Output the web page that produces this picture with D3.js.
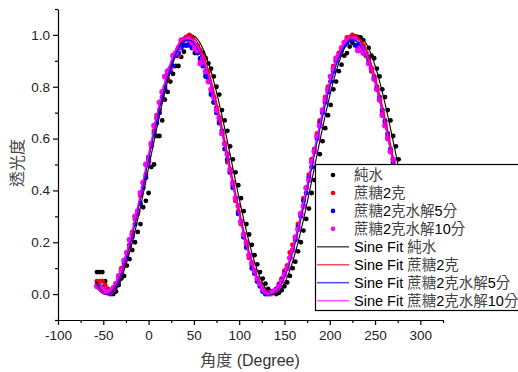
<!DOCTYPE html>
<html>
<head>
<meta charset="utf-8">
<script src="https://cdn.jsdelivr.net/npm/d3@7"></script>
<style>
  body { margin: 0; background: #fff; }
  text { font-family: "Liberation Sans", Arial, "Noto Sans CJK TC", sans-serif; }
  .cjk { font-family: "Noto Sans CJK TC", sans-serif; fill: #444; }
</style>
</head>
<body>
<div id="root"></div>
<script>
// measured angles (deg)
const angles = [
  -57, -54, -51, -48, -45, -42, -39, -36, -33, -30,
  -27, -24, -21, -18, -15, -12, -9, -6, -3, 0,
  3, 6, 9, 12, 15, 18, 21, 24, 27, 30,
  33, 36, 39, 42, 45, 48, 51, 54, 57, 60,
  63, 66, 69, 72, 75, 78, 81, 84, 87, 90,
  93, 96, 99, 102, 105, 108, 111, 114, 117, 120,
  123, 126, 129, 132, 135, 138, 141, 144, 147, 150,
  153, 156, 159, 162, 165, 168, 171, 174, 177, 180,
  183, 186, 189, 192, 195, 198, 201, 204, 207, 210,
  213, 216, 219, 222, 225, 228, 231, 234, 237, 240,
  243, 246, 249, 252, 255, 258, 261, 264, 267, 270,
  273, 276, 279
];

const water = [
  0.085, 0.085, 0.085, 0.05, 0.02, 0.005, 0.0, 0.01, 0.035, 0.06,
  0.07, 0.11, 0.135, 0.17, 0.2, 0.24, 0.27, 0.335, 0.36, 0.39,
  0.49, 0.5, 0.61, 0.61, 0.67, 0.75, 0.78, 0.82, 0.85, 0.88,
  0.88, 0.915, 0.935, 0.96, 0.97, 0.99, 0.93, 0.95, 0.94, 0.93,
  0.91, 0.89, 0.87, 0.84, 0.8, 0.77, 0.71, 0.67, 0.63, 0.57,
  0.52, 0.47, 0.42, 0.37, 0.32, 0.27, 0.23, 0.19, 0.15, 0.115,
  0.085, 0.06, 0.04, 0.02, 0.01, 0.005, 0.0, 0.005, 0.015, 0.03,
  0.045, 0.07, 0.1, 0.125, 0.165, 0.2, 0.245, 0.29, 0.33, 0.39,
  0.44, 0.48, 0.54, 0.59, 0.64, 0.69, 0.73, 0.79, 0.82, 0.86,
  0.885, 0.92, 0.93, 0.955, 0.97, 0.985, 0.99, 0.99, 0.98, 0.92,
  0.95, 0.92, 0.91, 0.87, 0.84, 0.79, 0.76, 0.71, 0.67, 0.61,
  0.57, 0.52, 0.47
];

const sugar = [
  0.05, 0.05, 0.05, 0.035, 0.02, 0.01, 0.025, 0.03, 0.06, 0.1,
  0.11, 0.16, 0.18, 0.24, 0.29, 0.31, 0.38, 0.43, 0.46, 0.53,
  0.57, 0.63, 0.69, 0.71, 0.75, 0.8, 0.83, 0.87, 0.92, 0.93,
  0.92, 0.97, 0.98, 0.99, 1.0, 0.98, 0.96, 0.96, 0.9, 0.92,
  0.85, 0.86, 0.78, 0.74, 0.72, 0.67, 0.62, 0.58, 0.51, 0.47,
  0.42, 0.36, 0.32, 0.27, 0.22, 0.19, 0.14, 0.11, 0.08, 0.05,
  0.04, 0.02, 0.01, 0.005, 0.0, 0.01, 0.02, 0.04, 0.06, 0.09,
  0.11, 0.16, 0.19, 0.22, 0.27, 0.31, 0.37, 0.41, 0.46, 0.52,
  0.56, 0.62, 0.67, 0.71, 0.76, 0.8, 0.84, 0.88, 0.9, 0.93,
  0.95, 0.97, 0.99, 0.99, 1.0, 0.99, 0.95, 0.94, 0.96, 0.92,
  0.9, 0.86, 0.83, 0.79, 0.75, 0.7, 0.66, 0.61, 0.55, 0.5,
  0.45, 0.4, 0.35
];

const hydro5 = [
  0.035, 0.03, 0.025, 0.015, 0.005, 0.0, 0.015, 0.03, 0.05, 0.08,
  0.12, 0.14, 0.19, 0.22, 0.27, 0.32, 0.35, 0.41, 0.45, 0.52,
  0.58, 0.62, 0.66, 0.7, 0.76, 0.79, 0.85, 0.86, 0.88, 0.92,
  0.93, 0.95, 0.96, 0.96, 0.96, 0.95, 0.95, 0.93, 0.91, 0.88,
  0.84, 0.83, 0.77, 0.74, 0.7, 0.66, 0.63, 0.56, 0.52, 0.47,
  0.41, 0.37, 0.31, 0.28, 0.22, 0.18, 0.15, 0.1, 0.08, 0.05,
  0.03, 0.01, 0.0, 0.0, 0.005, 0.01, 0.02, 0.035, 0.055, 0.08,
  0.1, 0.14, 0.17, 0.21, 0.26, 0.3, 0.36, 0.39, 0.45, 0.49,
  0.55, 0.6, 0.66, 0.7, 0.74, 0.78, 0.82, 0.86, 0.9, 0.92,
  0.94, 0.96, 0.97, 0.98, 0.99, 0.96, 0.96, 0.97, 0.95, 0.93,
  0.91, 0.87, 0.84, 0.8, 0.76, 0.71, 0.67, 0.62, 0.56, 0.51,
  0.46, 0.41, 0.36
];

const hydro10 = [
  0.03, 0.025, 0.02, 0.01, 0.005, 0.01, 0.02, 0.04, 0.07, 0.09,
  0.13, 0.16, 0.21, 0.23, 0.3, 0.32, 0.39, 0.43, 0.5, 0.51,
  0.58, 0.65, 0.68, 0.74, 0.78, 0.84, 0.86, 0.87, 0.92, 0.93,
  0.95, 0.98, 0.98, 0.99, 0.98, 0.97, 0.95, 0.94, 0.89, 0.91,
  0.86, 0.82, 0.79, 0.76, 0.71, 0.68, 0.62, 0.58, 0.54, 0.48,
  0.43, 0.37, 0.34, 0.28, 0.23, 0.2, 0.15, 0.12, 0.09, 0.06,
  0.04, 0.02, 0.01, 0.005, 0.005, 0.01, 0.015, 0.03, 0.05, 0.075,
  0.1, 0.14, 0.17, 0.22, 0.25, 0.31, 0.34, 0.41, 0.44, 0.51,
  0.55, 0.61, 0.65, 0.71, 0.75, 0.79, 0.84, 0.87, 0.91, 0.92,
  0.95, 0.97, 0.98, 0.99, 0.99, 0.99, 0.94, 0.95, 0.93, 0.93,
  0.89, 0.87, 0.83, 0.79, 0.75, 0.69, 0.65, 0.6, 0.55, 0.52,
  0.46, 0.41, 0.36
];

// series names (CJK part) and colours
const names = ['純水', '蔗糖2克', '蔗糖2克水解5分', '蔗糖2克水解10分'];
const colours = ['#000000', '#ff0000', '#0000ff', '#ff00ff'];

// Sine fit parameters: y = y0 + A*sin(pi*(x-xc)/w)
const fitY0 = [0.5, 0.5, 0.49, 0.497];
const fitA = [0.5, 0.5, 0.49, 0.495];
const fitXc = [0.75, -1.5, -2, -2.5];
const fitW = [91.5, 91, 91, 91];
const fitRange = [-58, 300];

const xMajor = [-100, -50, 0, 50, 100, 150, 200, 250, 300];
const xMinor = [-75, -25, 25, 75, 125, 175, 225, 275, 325];
const yMajor = [0, 0.2, 0.4, 0.6, 0.8, 1.0];
const yMinor = [-0.1, 0.1, 0.3, 0.5, 0.7, 0.9, 1.1];

const width = 518, height = 372;

const svg = d3.select('#root')
  .append('svg')
  .attr('width', width)
  .attr('height', height);

const x = d3.scaleLinear().domain([-100, 325]).range([58, 443]);
const y = d3.scaleLinear().domain([-0.1, 1.1]).range([320, 9]);

const series = [water, sugar, hydro5, hydro10];
const radius = [2.4, 2.5, 2.5, 2.9];

// Draw points
series.forEach((vals, i) => {
  svg.append('g')
    .selectAll('circle')
    .data(vals.map((v, j) => [angles[j], v]))
    .enter()
      .append('circle')
      .attr('cx', d => x(d[0]))
      .attr('cy', d => y(d[1]))
      .attr('r', radius[i])
      .attr('fill', colours[i]);
});

// Draw sine fits
const line = d3.line().x(d => x(d[0])).y(d => y(d[1]));
const xs = d3.range(fitRange[0], fitRange[1] + 0.5, 0.5);
colours.forEach((c, i) => {
  const pts = xs.map(v => [v, fitY0[i] + fitA[i] * Math.sin(Math.PI * (v - fitXc[i]) / fitW[i])]);
  svg.append('path')
    .attr('d', line(pts))
    .attr('fill', 'none')
    .attr('stroke', c)
    .attr('stroke-width', i === 0 ? 1.1 : 1.4);
});

// Axes
const fmt = d => String(d);
svg.append('g')
  .attr('transform', `translate(0,320)`)
  .call(d3.axisBottom(x).tickValues(xMajor).tickFormat(fmt).tickSize(5).tickSizeOuter(0).tickPadding(5));
svg.append('g')
  .attr('transform', `translate(0,320)`)
  .call(d3.axisBottom(x).tickValues(xMinor).tickFormat('').tickSize(3).tickSizeOuter(0))
  .call(g => g.select('.domain').remove());

svg.append('g')
  .attr('transform', `translate(58,0)`)
  .call(d3.axisLeft(y).tickValues(yMajor).tickFormat(d3.format('.1f')).tickSize(5).tickSizeOuter(0).tickPadding(3));
svg.append('g')
  .attr('transform', `translate(58,0)`)
  .call(d3.axisLeft(y).tickValues(yMinor).tickFormat('').tickSize(3).tickSizeOuter(0))
  .call(g => g.select('.domain').remove());

svg.selectAll('.tick text')
  .attr('font-size', 13.5)
  .attr('font-family', '"Liberation Sans", Arial, sans-serif')
  .attr('fill', '#222');
svg.selectAll('.domain, .tick line').attr('stroke', '#000').attr('stroke-width', 1.2);

// Axis titles
const xt = svg.append('text')
  .attr('x', 250)
  .attr('y', 366)
  .attr('text-anchor', 'middle')
  .attr('font-size', 16)
  .attr('fill', '#333');
xt.append('tspan').attr('class', 'cjk').text('角度');
xt.append('tspan').text(' (Degree)');

svg.append('text')
  .attr('class', 'cjk')
  .attr('transform', 'translate(23,163) rotate(-90)')
  .attr('text-anchor', 'middle')
  .attr('font-size', 16)
  .text('透光度');

// Legend
const legend = svg.append('g');
legend.append('rect')
  .attr('x', 315.5)
  .attr('y', 164.5)
  .attr('width', 230)
  .attr('height', 146)
  .attr('fill', '#fff')
  .attr('stroke', '#000')
  .attr('stroke-width', 1.2);

const rowY = d3.range(8).map(i => 175 + i * 17.95);

function legendLabel(yy, prefix, name) {
  const t = legend.append('text')
    .attr('x', 354)
    .attr('y', yy + 5)
    .attr('font-size', 14.5)
    .attr('fill', '#000');
  if (prefix) t.append('tspan').text(prefix);
  // split CJK and latin characters
  name.match(/[0-9A-Za-z]+|[^0-9A-Za-z]+/g).forEach(part => {
    t.append('tspan')
      .attr('class', /[0-9]/.test(part) ? null : 'cjk')
      .text(part);
  });
}

names.forEach((n, i) => {
  legend.append('circle')
    .attr('cx', 333)
    .attr('cy', rowY[i])
    .attr('r', 2.3)
    .attr('fill', colours[i]);
  legendLabel(rowY[i], null, n);
});
names.forEach((n, i) => {
  const yy = rowY[i + 4];
  legend.append('line')
    .attr('x1', 317).attr('x2', 349)
    .attr('y1', yy).attr('y2', yy)
    .attr('stroke', colours[i])
    .attr('stroke-opacity', 0.7)
    .attr('stroke-width', 1.5);
  legendLabel(yy, 'Sine Fit ', n);
});
</script>
</body>
</html>
